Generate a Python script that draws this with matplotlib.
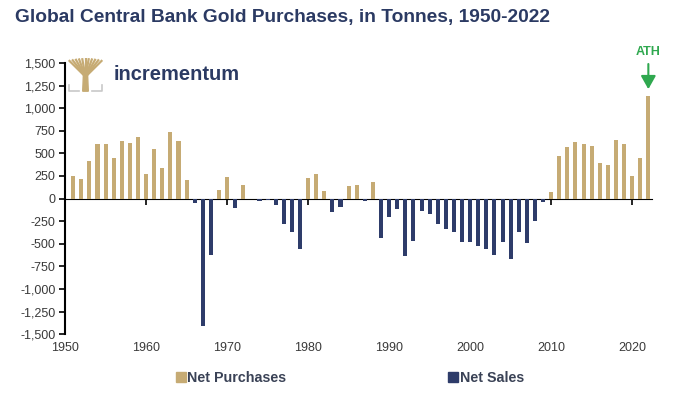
import matplotlib.pyplot as plt
import numpy as np
from matplotlib.patches import Patch, Polygon

plt.rcParams['font.family'] = ['Liberation Sans', 'DejaVu Sans']

# Net central bank gold purchases (tonnes)
years = list(range(1950, 2023))
net_tonnes = [
    0, 246, 217, 415, 606, 606, 448, 632, 620, 687,          # 1950-1959
    275, 551, 338, 742, 642, 202, -44, -1406, -628, 92,      # 1960-1969
    242, -103, 154, -10, -29, -18, -66, -279, -368, -555,    # 1970-1979
    231, 276, 88, -151, -96, 140, 154, -22, 184, -441,       # 1980-1989
    -199, -110, -632, -468, -140, -176, -283, -334, -371, -485,  # 1990-1999
    -485, -529, -558, -628, -485, -669, -371, -489, -246, -42,   # 2000-2009
    77, 476, 566, 625, 603, 577, 397, 375, 651, 603,         # 2010-2019
    252, 445, 1134,                                          # 2020-2022
]
y_ticks = list(range(-1500, 1501, 250))
x_ticks = list(range(1950, 2021, 10))

gold = '#c6ab74'
navy = '#2e3c6a'
title_col = '#2b3a63'
text_col = '#3a3a3a'

yrs = np.array(years)
net = np.array(net_tonnes)
purchases = np.where(net > 0, net, 0)
sales = np.where(net < 0, net, 0)

fig = plt.figure(figsize=(7, 3.94), dpi=100)
ax = fig.add_axes([0.093, 0.152, 0.839, 0.688])

ax.bar(yrs, purchases, width=0.5, color=gold, zorder=2)
ax.bar(yrs, sales, width=0.5, color=navy, zorder=2)

ax.set_xlim(1950, 2022.5)
ax.set_ylim(-1500, 1500)
ax.set_yticks(y_ticks)
ax.set_yticklabels([f'{v:,}' for v in y_ticks])
ax.set_xticks(x_ticks)
ax.set_xticklabels([str(v) for v in x_ticks])
ax.tick_params(axis='x', length=0, pad=6, labelsize=9, labelcolor=text_col)
ax.tick_params(axis='y', length=4, width=1.2, direction='out', pad=3,
               labelsize=9, labelcolor=text_col)

for s in ['top', 'right', 'bottom']:
    ax.spines[s].set_visible(False)
ax.spines['left'].set_linewidth(1.5)
ax.spines['left'].set_color('black')

# zero line with decade tick marks pointing down
zero = ax.secondary_xaxis(0.5)
zero.set_xticks(x_ticks)
zero.set_xticklabels([])
zero.tick_params(length=4, width=1.2, direction='in', color='black')
zero.spines['bottom'].set_linewidth(1.5)
zero.spines['bottom'].set_color('black')

# ATH annotation
ax.annotate('', xy=(2022, 1180), xytext=(2022, 1520),
            arrowprops=dict(arrowstyle='-|>,head_length=0.8,head_width=0.45',
                            color='#2fa84f', lw=1.5), annotation_clip=False)
ax.text(2022, 1560, 'ATH', color='#2fa84f', fontsize=9, fontweight='bold',
        ha='center', va='bottom', clip_on=False)

fig.text(0.021, 0.955, 'Global Central Bank Gold Purchases, in Tonnes, 1950-2022',
         color=title_col, fontsize=13.8, fontweight='bold', va='center', ha='left')

# incrementum logo
fig.text(0.163, 0.81, 'incrementum', color=title_col, fontsize=14.5,
         fontweight='bold', va='center', ha='left')
lg = fig.add_axes([68 / 700, 1 - 93 / 394, 35 / 700, 36 / 394])
lg.set_xlim(0, 1)
lg.set_ylim(0, 1)
lg.axis('off')
lg.add_patch(Polygon([[0.42, 0.05], [0.58, 0.05], [0.56, 0.5], [0.44, 0.5]],
                     color=gold))
for t in np.linspace(0.02, 0.98, 11):
    lg.plot([0.5, t], [0.45, 0.97 - 0.25 * (t - 0.5) ** 2], color=gold, lw=1.6,
            solid_capstyle='butt')
lg.plot([0.02, 0.02, 0.3], [0.22, 0.05, 0.05], color='#c8c8c8', lw=1.2)
lg.plot([0.98, 0.98, 0.7], [0.22, 0.05, 0.05], color='#c8c8c8', lw=1.2)

fig.legend(handles=[Patch(color=gold, label='Net Purchases'),
                    Patch(color=navy, label='Net Sales')],
           loc='center', bbox_to_anchor=(0.5, 0.04), ncol=2, frameon=False,
           handlelength=0.7, handleheight=0.7, handletextpad=0.1,
           columnspacing=11.3, prop={'weight': 'bold', 'size': 10.3},
           labelcolor='#3a4256')

fig.savefig('out.png', dpi=100)
